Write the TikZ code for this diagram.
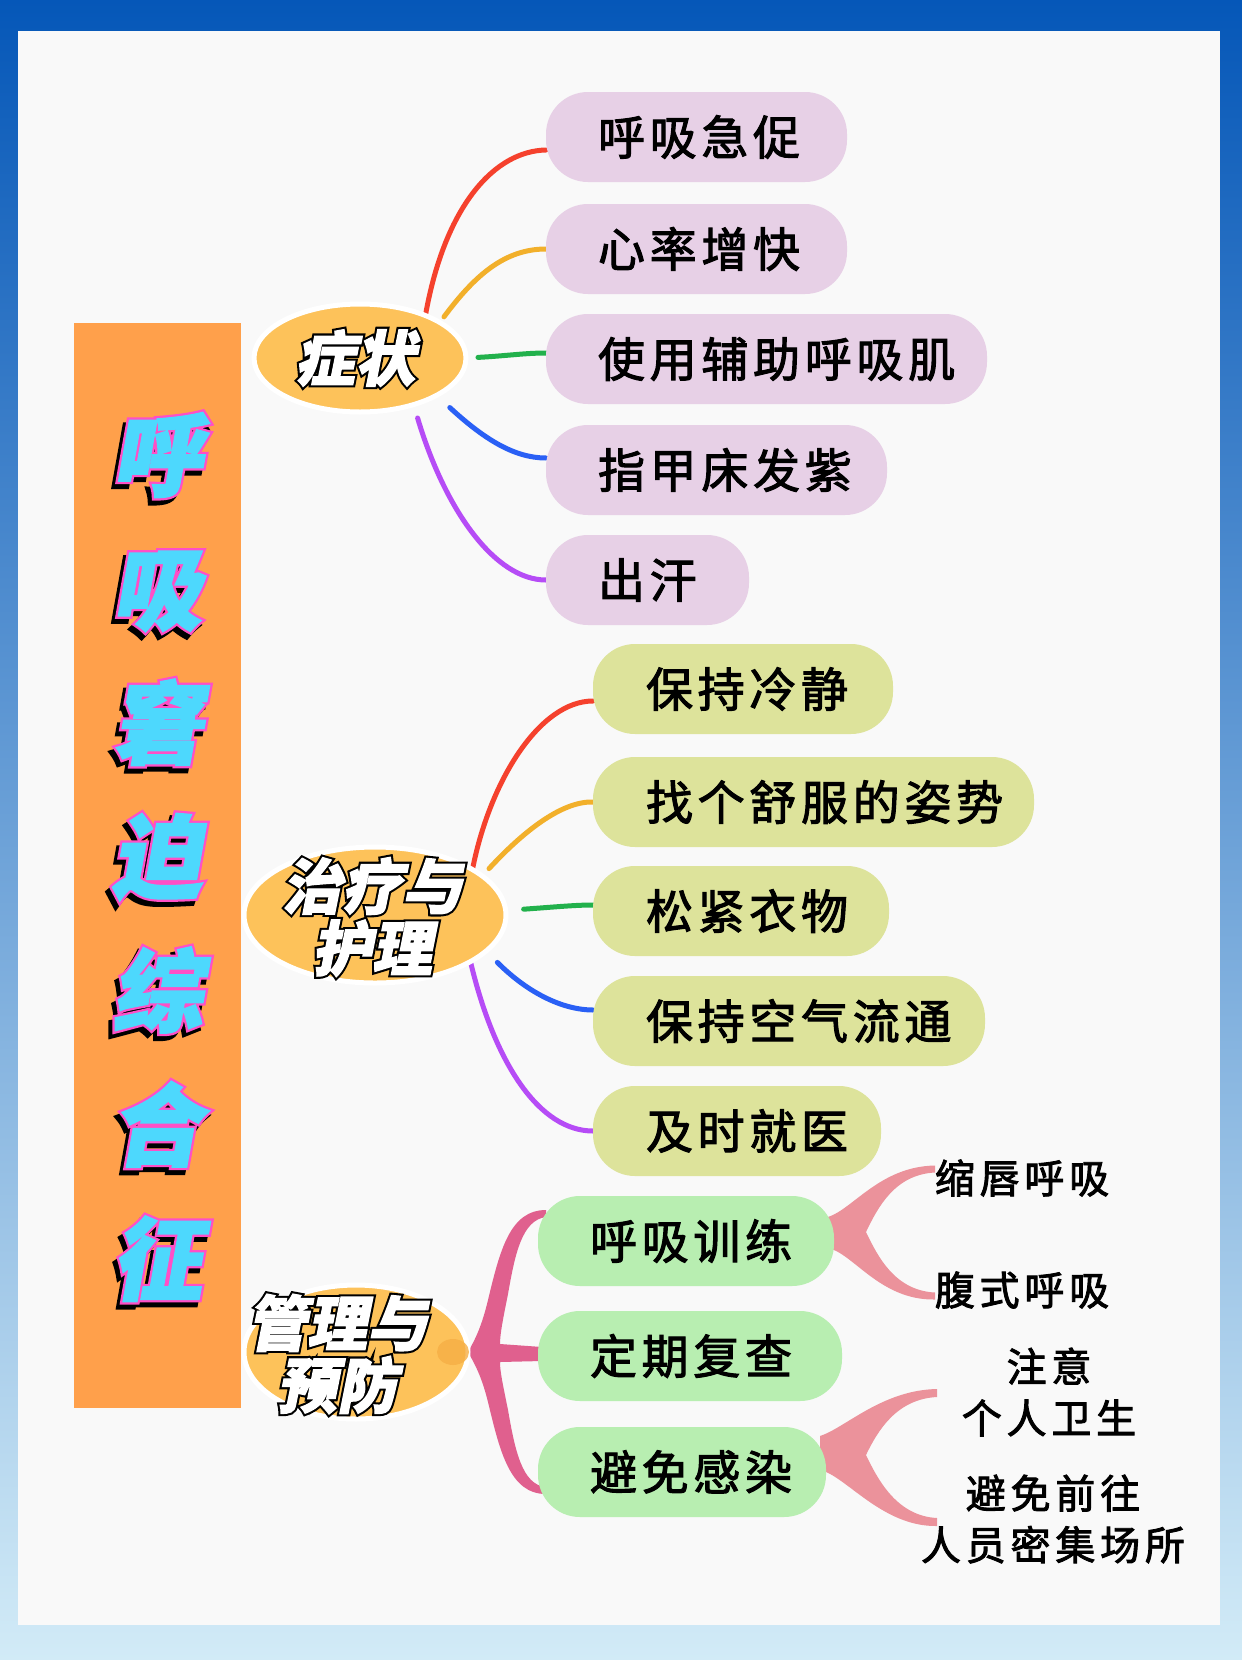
\documentclass[tikz,border=0pt]{standalone}
\usepackage{fontspec}
\usetikzlibrary{shapes.geometric,calc}
\setmainfont{Noto Sans CJK SC}
\newfontfamily\boxfnt[LetterSpace=10,FakeBold=2.2]{Noto Sans CJK SC}
\newfontfamily\leaffnt[LetterSpace=12,FakeBold=2.2]{Noto Sans CJK SC}
\newfontfamily\ttlout[FakeSlant=0.18,FakeBold=7]{Noto Sans CJK SC}
\newfontfamily\ttlin[FakeSlant=0.18,FakeBold=2]{Noto Sans CJK SC}
\newfontfamily\lblout[FakeSlant=0.2,FakeBold=9]{Noto Sans CJK SC}
\newfontfamily\lblin[FakeSlant=0.2,FakeBold=2]{Noto Sans CJK SC}
\definecolor{bgtop}{HTML}{0557B8}
\definecolor{bgmid}{HTML}{3AAEE2}
\definecolor{bgbot}{HTML}{D2EBF7}
\definecolor{panel}{HTML}{F9F9F9}
\definecolor{barorange}{HTML}{FFA04B}
\definecolor{ellfill}{HTML}{FDC25A}
\definecolor{ellspot}{HTML}{F6AE45}
\definecolor{pinkbox}{HTML}{E7D0E6}
\definecolor{limebox}{HTML}{DDE39B}
\definecolor{greenbox}{HTML}{B8EEB1}
\definecolor{cred}{HTML}{F5412D}
\definecolor{corange}{HTML}{F2B02B}
\definecolor{cgreen}{HTML}{22B14C}
\definecolor{cblue}{HTML}{2A60F5}
\definecolor{cpurple}{HTML}{B64CF6}
\definecolor{bracepink}{HTML}{E0608E}
\definecolor{forkpink}{HTML}{EB929B}
\definecolor{ttlcyan}{HTML}{4DD8FD}
\definecolor{ttlpink}{HTML}{FF4FC6}
\pgfdeclarelayer{bg}
\pgfsetlayers{bg,main}
\newcommand\bxtxt[3]{\makebox[#1pt][l]{\hspace*{#2pt}#3}}
\begin{document}
\begin{tikzpicture}[x=1pt,y=-1pt,
 box/.style={rounded corners=42pt, minimum height=90pt, inner sep=0pt, outer sep=0pt, anchor=west, text=black, font=\boxfnt\fontsize{47pt}{56pt}\selectfont},
 ell/.style={ellipse, fill=ellfill, draw=white, line width=5pt, inner sep=0pt, outer sep=0pt},
 conn/.style={line width=5pt, line cap=round},
 leaf/.style={inner sep=0pt, text=black, align=center, font=\leaffnt\fontsize{40pt}{51.5pt}\selectfont},
 lblo/.style={inner sep=0pt, align=center, text=black, font=\lblout\bfseries\fontsize{60pt}{62pt}\selectfont},
 lbli/.style={inner sep=0pt, align=center, text=white, font=\lblin\bfseries\fontsize{60pt}{62pt}\selectfont},
 ttlo/.style={inner sep=0pt, align=center, font=\ttlout\bfseries\fontsize{90pt}{134pt}\selectfont},
 ttli/.style={inner sep=0pt, align=center, text=ttlcyan, font=\ttlin\bfseries\fontsize{90pt}{134pt}\selectfont},
]
\useasboundingbox (0,0) rectangle (1242,1660);
\begin{pgfonlayer}{bg}
\shade[top color=bgtop, middle color=bgmid, bottom color=bgbot] (0,0) rectangle (1242,1660);
\fill[panel] (18,31) rectangle (1220,1625);
\fill[barorange] (74,323) rectangle (241,1408);
\end{pgfonlayer}

% title
\node[ttlo, text=black] (ttlsh) at (153,862) {呼\\吸\\窘\\迫\\综\\合\\征};
\node[ttlo, text=ttlpink] (ttlol) at (157,857) {呼\\吸\\窘\\迫\\综\\合\\征};
\node[ttli] (ttl) at (157,857) {呼\\吸\\窘\\迫\\综\\合\\征};

% category ellipses
\node[ell, minimum width=212pt, minimum height=108pt] (sym) at (360,358) {};
\node[ell, minimum width=262pt, minimum height=136pt] (trt) at (375,915) {};
\node[ell, minimum width=224pt, minimum height=134pt] (mgt) at (356,1352) {};
\fill[ellspot, opacity=0.8] (453,1352) ellipse (16 and 13);

\node[lblo] (symlo) at (355,358) {症状};
\node[lbli] (syml) at (355,358) {症状};
\node[lblo] (trtlo) at (372,917) {治疗与\\护理};
\node[lbli] (trtl) at (372,917) {治疗与\\护理};
\node[lblo] (mgtlo) at (337,1354) {管理与\\预防};
\node[lbli] (mgtl) at (337,1354) {管理与\\预防};

% symptom boxes
\node[box, fill=pinkbox] (s1) at (546,137) {\bxtxt{301}{52}{呼吸急促}};
\node[box, fill=pinkbox] (s2) at (546,249) {\bxtxt{301}{52}{心率增快}};
\node[box, fill=pinkbox] (s3) at (546,359) {\bxtxt{441}{52}{使用辅助呼吸肌}};
\node[box, fill=pinkbox] (s4) at (546,470) {\bxtxt{341}{52}{指甲床发紫}};
\node[box, fill=pinkbox] (s5) at (546,580) {\bxtxt{203}{52}{出汗}};

% treatment boxes
\node[box, fill=limebox] (c1) at (593,689) {\bxtxt{300}{53}{保持冷静}};
\node[box, fill=limebox] (c2) at (593,802) {\bxtxt{441}{53}{找个舒服的姿势}};
\node[box, fill=limebox] (c3) at (593,911) {\bxtxt{296}{53}{松紧衣物}};
\node[box, fill=limebox] (c4) at (593,1021) {\bxtxt{392}{53}{保持空气流通}};
\node[box, fill=limebox] (c5) at (593,1131) {\bxtxt{288}{53}{及时就医}};

% management boxes
\node[box, fill=greenbox] (m1) at (538,1241) {\bxtxt{296}{52}{呼吸训练}};
\node[box, fill=greenbox] (m2) at (538,1356) {\bxtxt{304}{52}{定期复查}};
\node[box, fill=greenbox] (m3) at (538,1472) {\bxtxt{288}{52}{避免感染}};

% leaves
\node[leaf] (l1) at (1022,1178) {缩唇呼吸};
\node[leaf] (l2) at (1022,1290) {腹式呼吸};
\node[leaf] (l3) at (1049,1392) {注意\\个人卫生};
\node[leaf] (l4) at (1053,1519) {避免前往\\人员密集场所};
\coordinate (f1a) at (935,1169);
\coordinate (f1b) at (935,1296);
\coordinate (f2a) at (937,1393);
\coordinate (f2b) at (937,1522);

\begin{pgfonlayer}{bg}
% symptom connectors
\draw[conn, cred] (sym.33) .. controls (445,205) and (495,151) .. ([yshift=-13pt]s1.west);
\draw[conn, corange, shorten <=7pt] (sym.24) .. controls (475,275) and (505,249) .. (s2.west);
\draw[conn, cgreen, shorten <=12pt] (sym.0) .. controls (505,356) and (525,353) .. ([yshift=6pt]s3.west);
\draw[conn, cblue, shorten <=18pt] (sym.-26) .. controls (485,440) and (515,458) .. ([yshift=12pt]s4.west);
\draw[conn, cpurple, shorten <=14pt] (sym.-41) .. controls (445,510) and (495,580) .. (s5.west);
% treatment connectors
\draw[conn, cred] (trt.25) .. controls (490,780) and (540,701) .. ([yshift=-12pt]c1.west);
\draw[conn, corange, shorten <=10pt] (trt.20) .. controls (520,835) and (560,801) .. (c2.west);
\draw[conn, cgreen, shorten <=18pt] (trt.2) .. controls (555,907) and (575,905) .. ([yshift=6pt]c3.west);
\draw[conn, cblue, shorten <=16pt] (trt.-18) .. controls (530,995) and (565,1010) .. ([yshift=11pt]c4.west);
\draw[conn, cpurple] (trt.-26) .. controls (495,1065) and (540,1131) .. (c5.west);
% management brace
\fill[bracepink] ($(m1.west)+(8,-31)$) .. controls (510,1210) and (500,1250) .. (488,1300)
  .. controls (482,1325) and (476,1338) .. (mgt.east)
  .. controls (476,1366) and (482,1378) .. (488,1402)
  .. controls (500,1452) and (510,1494) .. ($(m3.west)+(8,22)$) -- ++(0,-7)
  .. controls (522,1485) and (515,1450) .. (508,1410)
  .. controls (503,1385) and (500,1372) .. (500,1362)
  -- ($(m2.west)+(4,5)$) -- ++(0,-14) -- (500,1344)
  .. controls (500,1334) and (503,1319) .. (508,1294)
  .. controls (515,1254) and (522,1220) .. ($(m1.west)+(8,-24)$) -- cycle;
% forks
\fill[forkpink] ($(m1.east)+(-6,-24)$) .. controls +(25,-8) and +(-55,1) .. ($(f1a)+(0,-3.5)$) -- ($(f1a)+(0,3.5)$)
  .. controls +(-40,2) and +(12,-25) .. ($(m1.east)+(32,-9)$)
  .. controls +(12,25) and +(-40,-2) .. ($(f1b)+(0,-3.5)$) -- ($(f1b)+(0,3.5)$)
  .. controls +(-55,1) and +(25,5) .. ($(m1.east)+(-6,7)$) -- cycle;
\fill[forkpink] ($(m3.east)+(-6,-36)$) .. controls +(25,-8) and +(-55,1) .. ($(f2a)+(0,-4)$) -- ($(f2a)+(0,4)$)
  .. controls +(-40,2) and +(12,-25) .. ($(m3.east)+(40,-17)$)
  .. controls +(12,25) and +(-40,-2) .. ($(f2b)+(0,-4)$) -- ($(f2b)+(0,4)$)
  .. controls +(-55,1) and +(25,5) .. ($(m3.east)+(-6,-2)$) -- cycle;
\end{pgfonlayer}
\end{tikzpicture}
\end{document}
